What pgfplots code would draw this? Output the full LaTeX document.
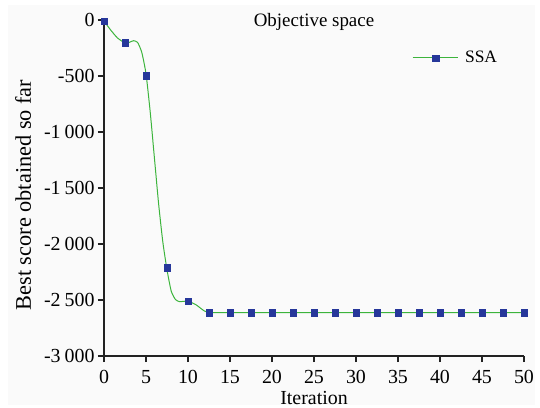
\documentclass[border=0pt]{standalone}
\usepackage{pgfplots}
\pgfplotsset{compat=1.18}
\usepackage{fontspec}
\setmainfont{Liberation Serif}
\definecolor{bgc}{HTML}{FAFAFA}
\definecolor{lgreen}{HTML}{3CB43C}
\definecolor{mblue}{HTML}{26379A}
\definecolor{axc}{HTML}{222222}
\begin{document}
\begin{tikzpicture}
\path[use as bounding box] (0,0) rectangle (540bp,408bp);
\fill[bgc] (8bp,3bp) rectangle (535bp,403bp);
\begin{axis}[
  at={(104bp,52bp)}, anchor=south west,
  scale only axis, width=420bp, height=336bp,
  xmin=0, xmax=50, ymin=-3000, ymax=0,
  axis lines*=left,
  axis line style={axc, line width=1.3pt},
  every tick/.style={axc, line width=1.3pt},
  tick align=outside, major tick length=6bp,
  xtick={0,5,...,50},
  ytick={-3000,-2500,-2000,-1500,-1000,-500,0},
  yticklabels={-3\hspace{0.2em}000,-2\hspace{0.2em}500,-2\hspace{0.2em}000,-1\hspace{0.2em}500,-1\hspace{0.2em}000,-500,0},
  /pgf/number format/assume math mode=true,
  tick label style={font=\fontsize{20}{22}\selectfont, text=black},
  xticklabel style={yshift=-5bp},
  xlabel={Iteration}, ylabel={Best score obtained so far},
  xlabel style={font=\fontsize{20}{22}\selectfont, yshift=-1bp},
  ylabel style={font=\fontsize{22.4}{24}\selectfont, yshift=6bp, xshift=-7bp},
  title={Objective space},
  title style={font=\fontsize{19}{21}\selectfont, at={(0.5,1)}, anchor=north, yshift=4bp},
  clip=false,
  legend style={draw=none, fill=none, at={(0.726,0.887)}, anchor=west, font=\fontsize{17.5}{19}\selectfont},
  legend cell align=left,
  legend image code/.code={
    \draw[lgreen, line width=1pt] (-4bp,0bp) -- (41bp,0bp);
    \fill[mblue] (15.5bp,-3.2bp) rectangle (22.5bp,3.2bp);
  },
]
\addplot[lgreen, line width=1pt, smooth, tension=0.35, forget plot] coordinates {
(0,-10) (0.8,-90) (1.6,-160) (2.5,-205) (3.0,-200) (3.5,-185) (4.0,-200) (4.5,-290)
(5.0,-480) (5.5,-820) (6.0,-1230) (6.5,-1640) (7.0,-1980) (7.5,-2230) (8.0,-2420)
(8.5,-2495) (9.0,-2515) (10.0,-2510) (11.0,-2545) (12.0,-2600) (13.0,-2612) (15,-2612) (50,-2612)
};
\addplot[only marks, mark=square*, mark size=3.3bp, mblue] coordinates {
(0,-10) (2.5,-205) (5,-500) (7.5,-2210) (10,-2510) (12.5,-2612) (15,-2612) (17.5,-2612)
(20,-2612) (22.5,-2612) (25,-2612) (27.5,-2612) (30,-2612) (32.5,-2612) (35,-2612)
(37.5,-2612) (40,-2612) (42.5,-2612) (45,-2612) (47.5,-2612) (50,-2612)
};
\addlegendentry{\hspace{5bp}SSA}
\end{axis}
\end{tikzpicture}
\end{document}
